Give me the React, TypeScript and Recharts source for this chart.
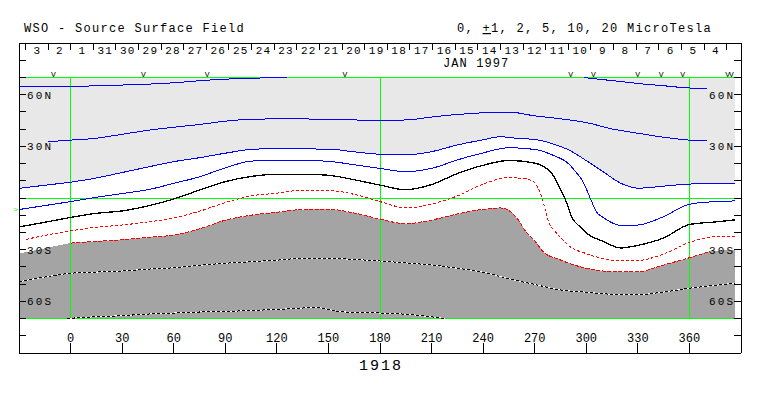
import React from 'react';
import { ComposedChart, XAxis, YAxis, Line, Area, Scatter } from 'recharts';

type Pt = [number, number];

// ---------- axes / labels ----------
const LON_TICKS = [0, 30, 60, 90, 120, 150, 180, 210, 240, 270, 300, 330, 360];
const LAT_TICKS = [-80, -70, -60, -50, -40, -30, -20, -10, 0, 10, 20, 30, 40, 50, 60, 70, 80];
const LAT_LABELS: Record<string, string> = { '60': '60N', '30': '30N', '-30': '30S', '-60': '60S' };
const DAY_BOUNDS = [-26.3, -13.1, 0, 13.2, 26.3, 39.5, 52.7, 65.8, 79.0, 92.1, 105.3, 118.5, 131.6, 144.8, 157.9, 171.1,
  184.3, 197.4, 210.6, 223.7, 236.9, 250.1, 263.2, 276.4, 289.5, 302.7, 315.9, 329.0, 342.2, 355.3, 368.5, 381.7];
const DAY_MIDS = [-19.7, -6.6, 6.6, 19.8, 32.9, 46.1, 59.2, 72.4, 85.6, 98.7, 111.9, 125.0, 138.2, 151.4, 164.5, 177.7,
  190.8, 204.0, 217.2, 230.3, 243.5, 256.6, 269.8, 283.0, 296.1, 309.3, 322.4, 335.6, 348.8, 361.9, 375.1];
const DAY_LABELS = ['3', '2', '1', '31', '30', '29', '28', '27', '26', '25', '24', '23', '22', '21', '20', '19', '18',
  '17', '16', '15', '14', '13', '12', '11', '10', '9', '8', '7', '6', '5', '4'];
const V_MARK_LONS = [-10.0, 42.3, 79.5, 159.6, 290.9, 304.1, 329.9, 343.5, 356.1, 382.2, 384.4];
const V_MARK_LAT = 70.2;
const EARTH_MARK: Pt = [-30, -6.4];
const GREEN_LONS = [0, 180, 360];
const GREEN_LATS = [70, 0, -70];
const LON_MIN = -30;
const LON_MAX = 386.6;
const LAT_TOP = 70;
const LAT_BOTTOM = -70;

// ---------- contours (longitude, latitude) ----------
const B1A: Pt[] = [[-30, 64.7], [-15, 64.8], [0, 64.7], [15, 65.2], [30, 65.6], [45, 66.1], [60, 66.9], [75, 68.1],
  [90, 69.0], [105, 69.5], [120, 70.0], [126, 70.2]];
const B1B: Pt[] = [[298.7, 69.9], [306.2, 69.1], [321.4, 67.5], [333, 66.2], [347, 65.0], [359.2, 63.9], [370.2, 63.7]];
const B2: Pt[] = [[-13, 32.7], [0, 33.6], [15, 34.7], [30, 37.0], [45, 39.3], [60, 41.1], [75, 42.7], [90, 44.6],
  [105, 45.7], [120, 45.9], [135, 45.9], [150, 45.6], [165, 45.3], [180, 45.1], [195, 45.3], [210, 47.0], [225, 48.5],
  [240, 49.5], [255, 49.9], [270, 47.7], [285, 46.0], [300, 43.8], [315, 40.1], [330, 37.6], [345, 35.3], [360, 33.6],
  [370, 33.1]];
const B3: Pt[] = [[-30, 5.6], [-15, 7.4], [0, 9.2], [15, 11.6], [30, 14.8], [45, 18.0], [60, 21.1], [75, 23.4],
  [90, 26.0], [105, 28.2], [120, 28.7], [135, 28.5], [150, 28.4], [165, 26.8], [180, 25.4], [195, 25.0], [210, 26.9],
  [225, 30.8], [240, 33.8], [250, 35.6], [260, 34.6], [270, 34.0], [280, 31.6], [290, 27.8], [300, 21.7], [310, 15.1],
  [320, 8.6], [330, 5.7], [345, 6.9], [360, 8.1], [375, 8.4], [386.6, 8.5]];
const B4: Pt[] = [[-30, -6.7], [-15, -4.4], [0, -2.1], [15, 0.4], [30, 2.6], [45, 4.8], [60, 8.5], [75, 12.3],
  [90, 17.5], [105, 21.4], [120, 21.9], [135, 21.8], [150, 21.3], [165, 19.3], [180, 17.2], [195, 15.3], [210, 17.2],
  [225, 22.1], [240, 26.2], [255, 29.2], [270, 28.2], [280, 25.1], [290, 19.6], [294, 15.0], [298, 9.6], [302, 0.6],
  [306, -8.2], [310, -11.4], [320, -15.9], [330, -15.7], [345, -10.8], [360, -3.6], [375, -2.1], [386.6, -1.7]];
const NEUTRAL: Pt[] = [[-30, -16.8], [-15, -14.1], [0, -11.3], [15, -8.9], [30, -7.5], [45, -4.6], [60, -0.6],
  [75, 4.6], [90, 9.5], [105, 12.5], [120, 13.8], [135, 13.8], [150, 13.2], [165, 10.6], [180, 7.5], [195, 4.8],
  [210, 7.8], [225, 14.2], [240, 19.0], [255, 21.8], [270, 20.3], [280, 14.2], [284, 6.8], [288, -1.3], [292, -12.0],
  [296, -16.4], [300, -20.3], [310, -25.3], [320, -29.0], [330, -27.5], [345, -23.2], [360, -15.4], [375, -13.9],
  [386.6, -12.7]];
const R1: Pt[] = [[-26, -24.1], [-15, -21.7], [0, -19.1], [15, -17.0], [30, -15.7], [45, -13.9], [60, -11.6],
  [75, -7.7], [90, -2.7], [105, 1.2], [120, 2.8], [135, 4.5], [150, 4.4], [165, 2.1], [180, -2.1], [195, -5.7],
  [210, -3.5], [225, 1.2], [240, 8.1], [255, 11.8], [265, 11.1], [270, 8.8], [274, 0.8], [278, -13.6], [282, -19.5],
  [286, -23.9], [290, -27.8], [300, -32.3], [310, -35.2], [320, -36.5], [330, -36.3], [345, -32.5], [360, -25.8],
  [375, -22.4], [386.6, -22.1]];
const R2: Pt[] = [[-30, -32.2], [-15, -29.2], [0, -26.2], [15, -25.2], [30, -24.2], [45, -22.9], [60, -21.5],
  [75, -17.9], [90, -12.9], [105, -10.0], [120, -8.3], [135, -6.7], [150, -6.6], [165, -8.7], [180, -12.3],
  [195, -14.9], [210, -12.8], [225, -9.3], [240, -6.6], [250, -5.8], [255, -7.3], [260, -12.2], [265, -19.7],
  [270, -24.9], [275, -31.2], [285, -36.0], [300, -40.8], [315, -42.7], [330, -42.8], [345, -38.9], [360, -34.7],
  [372, -31.1], [386.6, -29.9]];
const R2_VISIBLE: [number, number] = [-10, 372];
const D1: Pt[] = [[-30, -48.6], [-15, -45.9], [0, -43.7], [15, -43.0], [30, -42.4], [45, -41.3], [60, -40.5],
  [75, -39.1], [90, -37.9], [105, -37.0], [120, -36.1], [135, -35.0], [150, -35.0], [165, -35.7], [180, -36.6],
  [195, -37.7], [210, -38.9], [225, -40.8], [240, -43.1], [255, -46.9], [270, -50.2], [285, -53.4], [300, -54.7],
  [315, -55.9], [330, -56.1], [345, -54.6], [360, -52.4], [375, -50.7], [386.6, -49.4]];
const D2: Pt[] = [[-2, -70], [0, -69.9], [5, -69.4], [15, -69.0], [30, -68.3], [45, -67.4], [60, -66.8], [75, -66.2],
  [90, -65.9], [105, -65.3], [120, -64.7], [135, -63.9], [143, -63.5], [150, -64.8], [158, -66.1], [180, -66.8],
  [195, -67.5], [210, -69.0], [218, -70]];

// ---------- helpers ----------
const FONT = '"Liberation Mono", "DejaVu Sans Mono", monospace';
const pts = (a: Pt[]) => a.map(([lon, lat]) => ({ lon, lat }));
const AX = { xAxisId: 'b', yAxisId: 'l' } as const;

const NoLabel = () => <g />;
const BottomTick = (p: any) => (
  <text x={p.x} y={p.y} textAnchor="middle" fontFamily={FONT} fontSize={12} fill="#000">{p.payload.value}</text>
);
const DayTick = (p: any) => (
  <text x={p.x + 0.6} y={p.y + 10} textAnchor="middle" fontFamily={FONT} fontSize={11} letterSpacing={1.2} fill="#000">
    {DAY_LABELS[p.index]}
  </text>
);
const LeftTick = (p: any) => {
  const s = LAT_LABELS[String(p.payload.value)];
  if (!s) return <g />;
  return <text x={p.x} y={p.y + 4} textAnchor="start" fontFamily={FONT} fontSize={11} letterSpacing={2.1} fill="#000">{s}</text>;
};
const RightTick = (p: any) => {
  const s = LAT_LABELS[String(p.payload.value)];
  if (!s) return <g />;
  return <text x={p.x + 2.1} y={p.y + 4} textAnchor="end" fontFamily={FONT} fontSize={11} letterSpacing={2.1} fill="#000">{s}</text>;
};
const VShape = (p: any) => (
  <text x={p.cx} y={p.cy} textAnchor="middle" fontFamily={FONT} fontSize={8} fill="#000">V</text>
);
const EarthShape = (p: any) => (
  <text x={p.cx - 1} y={p.cy + 3} textAnchor="end" fontFamily={FONT} fontSize={8} fill="#00ff00">&gt;</text>
);

const contour = (name: string, data: Pt[], stroke: string, dash?: string, width = 1) => (
  <Line key={name} name={name} {...AX} data={pts(data)} dataKey="lat" type="monotone" stroke={stroke}
    strokeWidth={width} strokeDasharray={dash} dot={false} activeDot={false} isAnimationActive={false} />
);

export default function App() {
  const lightArea = B3.map(([lon, lat]) => ({ lon, range: [lat, LAT_TOP] }));
  const darkArea = R2.map(([lon, lat]) => ({ lon, range: [LAT_BOTTOM, lat] }));
  const r2Line = R2.filter(([lon]) => lon >= R2_VISIBLE[0] && lon <= R2_VISIBLE[1]);
  return (
    <div className="wso" style={{ position: 'absolute', left: 0, top: 0, width: 763, height: 396, background: '#fff' }}>
      <style>{`.wso svg path, .wso svg line { shape-rendering: crispEdges; }`}</style>
      <ComposedChart width={763} height={396} margin={{ top: 43, right: 22, bottom: 43, left: 19 }}>
        <Area {...AX} name="north" data={lightArea} dataKey="range" type="monotone" stroke="none" fill="#e8e8e8"
          fillOpacity={1} dot={false} activeDot={false} isAnimationActive={false} />
        <Area {...AX} name="south" data={darkArea} dataKey="range" type="monotone" stroke="none" fill="#a4a4a4"
          fillOpacity={1} dot={false} activeDot={false} isAnimationActive={false} />

        {GREEN_LATS.map((lat) => (
          <Line key={'gh' + lat} name={'gh' + lat} {...AX} data={[{ lon: LON_MIN, lat }, { lon: LON_MAX, lat }]}
            dataKey="lat" type="linear" stroke="#00ff00" strokeWidth={1} dot={false} activeDot={false} isAnimationActive={false} />
        ))}
        {GREEN_LONS.map((lon) => (
          <Line key={'gv' + lon} name={'gv' + lon} {...AX} data={[{ lon, lat: LAT_BOTTOM }, { lon, lat: LAT_TOP }]}
            dataKey="lat" type="linear" stroke="#00ff00" strokeWidth={1} dot={false} activeDot={false} isAnimationActive={false} />
        ))}

        {contour('b1a', B1A, '#0000ff')}
        {contour('b1b', B1B, '#0000ff')}
        {contour('b2', B2, '#0000ff')}
        {contour('b3', B3, '#0000ff')}
        {contour('b4', B4, '#0000ff')}
        {contour('neutral', NEUTRAL, '#000000', undefined, 1.3)}
        {contour('r1', R1, '#ff0000', '3 2')}
        {contour('r2', r2Line, '#ff0000', '4 1.5')}
        {contour('d1w', D1, '#ffffff')}
        {contour('d1', D1, '#000000', '3 2')}
        {contour('d2w', D2, '#ffffff')}
        {contour('d2', D2, '#000000', '3 2')}

        <Scatter {...AX} name="v" data={V_MARK_LONS.map((lon) => ({ lon, lat: V_MARK_LAT }))} dataKey="lat"
          shape={VShape} isAnimationActive={false} />
        <Scatter {...AX} name="earth" data={[{ lon: EARTH_MARK[0], lat: EARTH_MARK[1] }]} dataKey="lat"
          shape={EarthShape} isAnimationActive={false} />

        <XAxis xAxisId="b" dataKey="lon" type="number" domain={[-30, 390]} ticks={LON_TICKS}
          interval={0} orientation="bottom" mirror height={1} tickSize={10} tickMargin={1} stroke="#000" tick={BottomTick} />
        <XAxis xAxisId="t1" dataKey="lon" type="number" domain={[-30, 390]} allowDataOverflow ticks={DAY_BOUNDS}
          interval={0} orientation="top" mirror height={1} tickSize={7} stroke="#000" tick={NoLabel} />
        <XAxis xAxisId="t2" dataKey="lon" type="number" domain={[-30, 390]} allowDataOverflow ticks={DAY_MIDS}
          interval={0} orientation="top" mirror height={1} tickSize={0} tickMargin={0} axisLine={false}
          tickLine={false} tick={DayTick} />
        <YAxis yAxisId="l" dataKey="lat" type="number" domain={[-90, 90]} ticks={LAT_TICKS}
          interval={0} orientation="left" mirror width={1} tickSize={7} tickMargin={1} stroke="#000" tick={LeftTick} />
        <YAxis yAxisId="r" dataKey="lat" type="number" domain={[-90, 90]} allowDataOverflow ticks={LAT_TICKS}
          interval={0} orientation="right" mirror width={1} tickSize={7} tickMargin={1} stroke="#000" tick={RightTick} />

        <text x={24} y={32} fontFamily={FONT} fontSize={12} letterSpacing={1.3} fill="#000">WSO - Source Surface Field</text>
        <text x={457} y={32} fontFamily={FONT} fontSize={12} letterSpacing={1.3} fill="#000">
          0, <tspan textDecoration="underline">+</tspan>1, 2, 5, 10, 20 MicroTesla
        </text>
        <text x={443} y={67} fontFamily={FONT} fontSize={12} letterSpacing={1.1} fill="#000">JAN 1997</text>
        <text x={381} y={370} textAnchor="middle" fontFamily={FONT} fontSize={15} letterSpacing={2} fill="#000">1918</text>
      </ComposedChart>
    </div>
  );
}
